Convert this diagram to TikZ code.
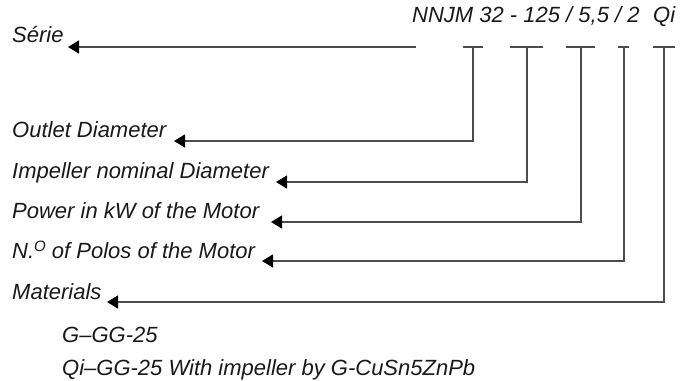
\documentclass[tikz,border=0pt]{standalone}
\usepackage{fontspec}
\setmainfont{Liberation Sans}
\usetikzlibrary{arrows.meta}
\begin{document}
\begin{tikzpicture}[x=1pt,y=-1pt,
  lbl/.style={anchor=base west,inner sep=0pt,text=black!90,font=\fontsize{22}{24}\selectfont\itshape},
  ln/.style={draw=black!70,line width=1.4pt},
  arr/.style={ln,-{Triangle[length=11pt,width=13pt,color=black]}}]
\useasboundingbox (0,0) rectangle (692,380);
% header
\node[lbl] (code) at (412,22) {NNJM 32 - 125 / 5,5 / 2};
\node[lbl] (qi) at (653,22) {Qi};
% labels
\node[lbl] (serie) at (12,42) {Série};
\node[lbl] (outlet) at (12,137) {Outlet Diameter};
\node[lbl] (imp) at (12,178) {Impeller nominal Diameter};
\node[lbl] (power) at (12,218) {Power in kW of the Motor};
\node[lbl] (polos) at (12,258) {N.\raisebox{7pt}{\fontsize{15}{15}\selectfont O} of Polos of the Motor};
\node[lbl] (mat) at (12,299) {Materials};
\node[lbl] (g1) at (62,342) {G–GG-25};
\node[lbl] (g2) at (62,375) {Qi–GG-25 With impeller by G-CuSn5ZnPb};
% tick tops
\coordinate (s0) at (416,47);
\coordinate (t1) at (473,47);
\coordinate (t2) at (527,47);
\coordinate (t3) at (581,47);
\coordinate (t4) at (624,47);
\coordinate (t5) at (664,47);
% arrow tips
\coordinate (a0) at (68,47);
\coordinate (a1) at (174,141);
\coordinate (a2) at (276,182);
\coordinate (a3) at (271,222);
\coordinate (a4) at (262,261);
\coordinate (a5) at (107,302);
% tick bars
\draw[ln] (463,47) -- (483,47);
\draw[ln] (510,47) -- (543,47);
\draw[ln] (566,47) -- (595,47);
\draw[ln] (618,47) -- (629,47);
\draw[ln] (653,47) -- (675,47);
% connectors
\draw[arr] (s0) -- (a0);
\draw[arr] (t1) |- (a1);
\draw[arr] (t2) |- (a2);
\draw[arr] (t3) |- (a3);
\draw[arr] (t4) |- (a4);
\draw[arr] (t5) |- (a5);
\end{tikzpicture}
\end{document}
